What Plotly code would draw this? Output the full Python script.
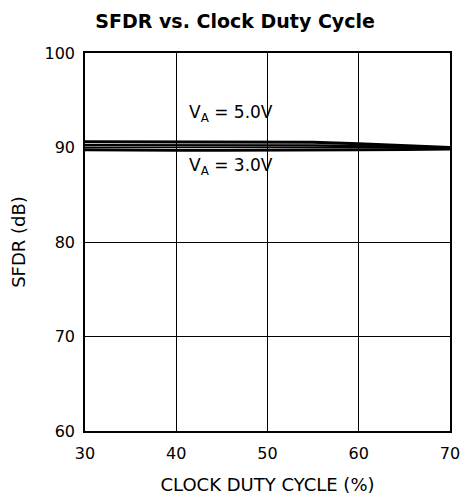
import plotly.graph_objects as go

# duty cycle (%) and SFDR (dB)
duty = [30, 35, 40, 45, 50, 55, 60, 65, 70]
sfdr_5v_a = [90.6, 90.6, 90.6, 90.6, 90.6, 90.55, 90.4, 90.2, 90.0]
sfdr_5v_b = [90.25, 90.25, 90.25, 90.25, 90.25, 90.2, 90.15, 90.0, 89.9]
sfdr_3v = [89.75, 89.7, 89.7, 89.7, 89.7, 89.7, 89.75, 89.8, 89.85]

FONT = 'DejaVu Sans, Liberation Sans, Arial'

fig = go.Figure()

for ys, w in [(sfdr_5v_a, 3), (sfdr_5v_b, 2.5), (sfdr_3v, 3)]:
    fig.add_trace(go.Scatter(x=duty, y=ys, mode='lines',
                             line=dict(color='black', width=w),
                             showlegend=False))

fig.add_annotation(x=46, y=93.6, text='V<sub>A</sub> = 5.0V', showarrow=False,
                   font=dict(family=FONT, size=17, color='black'))
fig.add_annotation(x=46, y=88.0, text='V<sub>A</sub> = 3.0V', showarrow=False,
                   font=dict(family=FONT, size=17, color='black'))

# invisible outside ticks just push the tick labels away from the frame
axis_style = dict(showline=True, linecolor='black', linewidth=1.5, mirror=True,
                  showgrid=True, gridcolor='black', gridwidth=1, zeroline=False,
                  ticks='outside', tickcolor='rgba(0,0,0,0)', automargin=False,
                  tickfont=dict(family=FONT, size=16, color='black'),
                  title_font=dict(family=FONT, size=18, color='black'))

fig.update_layout(
    width=461, height=502,
    margin=dict(l=85, r=11, t=53, b=71),
    paper_bgcolor='white', plot_bgcolor='white',
    title=dict(text='<b>SFDR vs. Clock Duty Cycle</b>', x=0.51, xanchor='center',
               y=0.958, yanchor='middle',
               font=dict(family=FONT, size=19, color='black')),
    xaxis=dict(range=[30, 70], dtick=10, ticklen=7,
               title=dict(text='CLOCK DUTY CYCLE (%)', standoff=16), **axis_style),
    yaxis=dict(range=[60, 100], dtick=10, ticklen=5,
               title=dict(text='SFDR (dB)', standoff=14), **axis_style),
)

# drop the default page margin so the figure fills the window
fig.write_html("out.html", config={'displayModeBar': False},
               post_script="document.body.style.margin='0';")
